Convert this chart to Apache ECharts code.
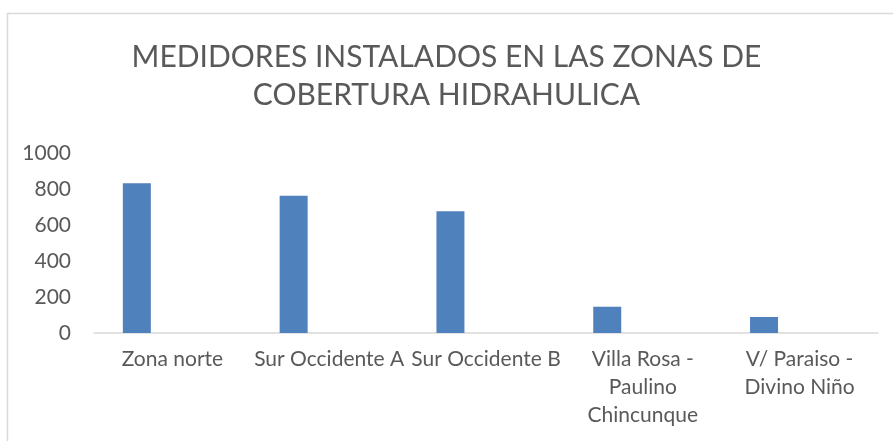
<!DOCTYPE html>
<html>
<head>
<meta charset="utf-8">
<script src="https://cdn.jsdelivr.net/npm/echarts@6/dist/echarts.min.js"></script>
<style>
  html, body { margin: 0; padding: 0; background: #fff; }
  #chart { width: 893px; height: 441px; }
</style>
</head>
<body>
<div id="chart"></div>
<script>
const titleText = "MEDIDORES INSTALADOS EN LAS ZONAS DE\nCOBERTURA HIDRAHULICA";
const zones = [
  "Zona norte",
  "Sur Occidente A",
  "Sur Occidente B",
  "Villa Rosa -\nPaulino\nChincunque",
  "V/ Paraiso -\nDivino Niño",
];
const medidores = [832, 763, 676, 146, 89];
// empty second series in the source sheet, keeps the bars left of centre
const vacio = [null, null, null, null, null];
const yTicks = [0, 200, 400, 600, 800, 1000];

const font = "Lato, 'Open Sans', sans-serif";
const grey = "#595959";

const chart = echarts.init(document.getElementById("chart"), null, { renderer: "canvas" });
chart.setOption({
  animation: false,
  backgroundColor: "#fff",
  textStyle: { fontFamily: font },
  graphic: [
    {
      type: "rect",
      silent: true,
      shape: { x: 7.5, y: 13.5, width: 1000, height: 1000 },
      style: { fill: "none", stroke: "#d9d9d9", lineWidth: 1.5 },
    },
  ],
  title: {
    text: titleText,
    left: "center",
    top: 38,
    // chart area starts a few px in, so the title sits right of page centre
    padding: [0, 0, 0, 15],
    textStyle: {
      fontFamily: font,
      fontSize: 30,
      fontWeight: "normal",
      color: grey,
      lineHeight: 38,
    },
  },
  grid: { left: 94, right: 15, top: 153, bottom: 108, containLabel: false },
  xAxis: {
    type: "category",
    data: zones,
    axisLine: { show: true, lineStyle: { color: "#d9d9d9", width: 1.5 } },
    axisTick: { show: false },
    axisLabel: {
      color: grey,
      fontSize: 21,
      fontFamily: font,
      lineHeight: 28,
      margin: 12,
      interval: 0,
    },
    splitLine: { show: false },
  },
  yAxis: {
    type: "value",
    min: yTicks[0],
    max: yTicks[yTicks.length - 1],
    interval: 200,
    axisLine: { show: false },
    axisTick: { show: false },
    splitLine: { show: false },
    axisLabel: {
      color: grey,
      fontSize: 21,
      fontFamily: font,
      margin: 23,
      formatter: (v) => String(v),
    },
  },
  series: [
    {
      type: "bar",
      data: medidores,
      barWidth: 28,
      barGap: "154%",
      itemStyle: { color: "#4f81bd" },
    },
    {
      type: "bar",
      data: vacio,
      barWidth: 28,
      itemStyle: { color: "#c0504d" },
    },
  ],
});
</script>
</body>
</html>
